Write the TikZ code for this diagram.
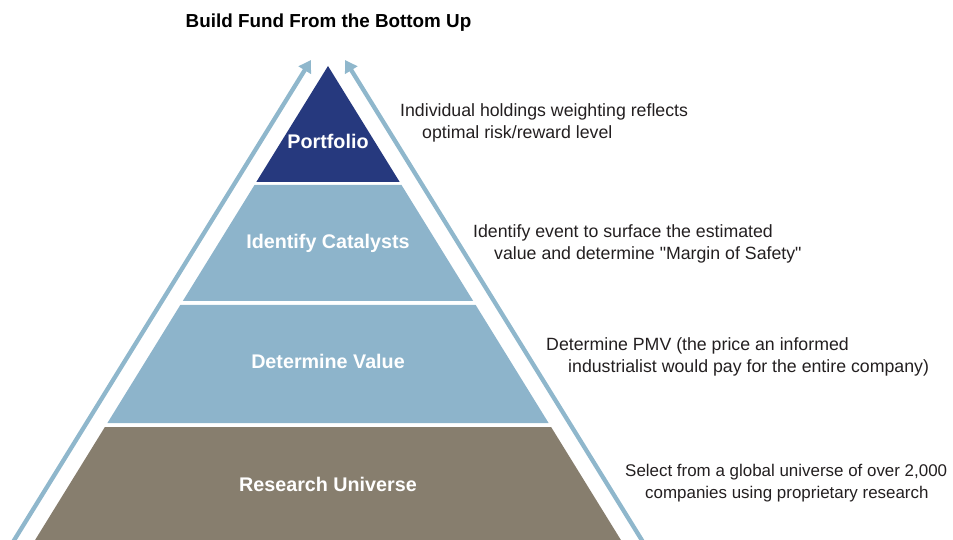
\documentclass[tikz,border=0pt]{standalone}
\usepackage{fontspec}
\setmainfont{Liberation Sans}[Ligatures=TeXOff]
\usetikzlibrary{arrows.meta}
\definecolor{navy}{RGB}{38,57,126}
\definecolor{lblue}{RGB}{141,180,203}
\definecolor{arrowblue}{RGB}{143,183,204}
\definecolor{taupe}{RGB}{135,126,110}
\definecolor{desc}{RGB}{35,31,32}
\tikzset{
  layerlabel/.style={anchor=base, text=white, font=\fontsize{19.8}{23}\selectfont\bfseries, inner sep=0pt},
  desctext/.style={anchor=base west, text=desc, font=\fontsize{17.8}{21}\selectfont, inner sep=0pt},
  sidearrow/.style={draw=arrowblue, line width=4.3bp, -{Triangle[length=12bp,width=14bp]}},
}
\begin{document}
\begin{tikzpicture}[x=1bp,y=-1bp]
\useasboundingbox (0,0) rectangle (953,540);
% layers
\fill[navy]  (328,66) -- (399.7,182) -- (256.3,182) -- cycle;
\fill[lblue] (254.5,185) -- (401.5,185) -- (473.2,301) -- (182.8,301) -- cycle;
\fill[lblue] (180.3,305) -- (475.7,305) -- (548.6,423) -- (107.4,423) -- cycle;
\fill[taupe] (104.9,427) -- (551.1,427) -- (620.9,540) -- (35.1,540) -- cycle;
% side arrows
\coordinate (la0) at (13,542);
\coordinate (la1) at (311,60);
\coordinate (ra0) at (643,542);
\coordinate (ra1) at (345,60);
\draw[sidearrow] (la0) -- (la1);
\draw[sidearrow] (ra0) -- (ra1);
% title
\node[anchor=base, inner sep=0pt, font=\fontsize{18.9}{22}\selectfont\bfseries] (title) at (328.5,28) {Build Fund From the Bottom Up};
% labels
\node[layerlabel] (portfolio) at (328,149) {Portfolio};
\node[layerlabel] (catalysts) at (328,249) {Identify Catalysts};
\node[layerlabel] (value) at (328,369) {Determine Value};
\node[layerlabel] (research) at (328,491) {Research Universe};
% descriptions
\node[desctext] (d1a) at (400,117) {Individual holdings weighting reflects};
\node[desctext] (d1b) at (422,139) {optimal risk/reward level};
\node[desctext] (d2a) at (473,238) {Identify event to surface the estimated};
\node[desctext] (d2b) at (494,260) {value and determine "Margin of Safety"};
\node[desctext] (d3a) at (546,351) {Determine PMV (the price an informed};
\node[desctext] (d3b) at (568,373) {industrialist would pay for the entire company)};
\node[desctext, font=\fontsize{17.0}{20}\selectfont] (d4a) at (625,476) {Select from a global universe of over 2,000};
\node[desctext, font=\fontsize{17.0}{20}\selectfont] (d4b) at (645,498) {companies using proprietary research};
\end{tikzpicture}
\end{document}
